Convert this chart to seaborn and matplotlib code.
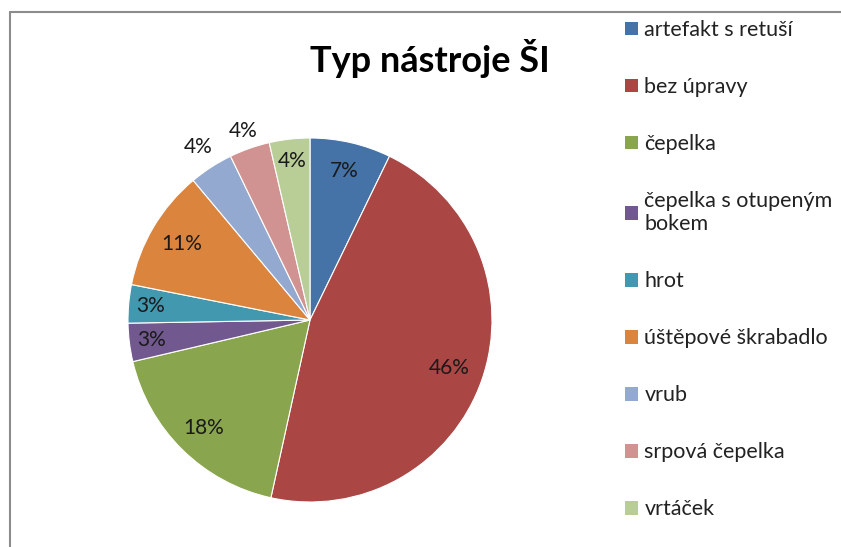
import numpy as np
import matplotlib
matplotlib.use("Agg")
import matplotlib.pyplot as plt
import seaborn as sns
from matplotlib.patches import Patch

sns.set_theme(style="white")
plt.rcParams['font.family'] = ['Lato', 'DejaVu Sans']

title = "Typ nástroje ŠI"
categories = ["artefakt s retuší", "bez úpravy", "čepelka",
              "čepelka s otupeným\nbokem", "hrot", "úštěpové škrabadlo",
              "vrub", "srpová čepelka", "vrtáček"]
values = [7.2, 46.3, 17.9, 3.4, 3.4, 10.8, 3.9, 3.6, 3.6]
colors = ["#4572A7", "#AA4643", "#89A54E", "#71588F", "#4198AF",
          "#DB843D", "#93A9CF", "#D19392", "#B9CD96"]
label_dist = [0.84, 0.81, 0.83, 0.88, 0.88, 0.82, 1.13, 1.10, 0.88]

W, H = 841, 547
fig = plt.figure(figsize=(W / 100, H / 100), dpi=100)
fig.patch.set_facecolor("white")

cx, cy, R = 310, 320, 182
ax = fig.add_axes([(cx - R) / W, (H - cy - R) / H, 2 * R / W, 2 * R / H])
wedges, _ = ax.pie(values, colors=colors, startangle=90, counterclock=False,
                   radius=1.0, wedgeprops=dict(edgecolor="white", linewidth=0.8))
ax.set_xlim(-1, 1)
ax.set_ylim(-1, 1)
ax.set_aspect("equal")
ax.axis("off")

total = sum(values)
for w, v, d in zip(wedges, values, label_dist):
    ang = np.deg2rad((w.theta1 + w.theta2) / 2)
    ax.text(d * np.cos(ang), d * np.sin(ang), f"{100 * v / total:.0f}%",
            ha="center", va="center", fontsize=15, color="#1a1a1a", clip_on=False)

fig.text(430 / W, 1 - 58 / H, title, ha="center", va="center",
         fontsize=26, fontweight="bold", color="black")

handles = [Patch(facecolor=c, edgecolor="none") for c in colors]
leg = fig.legend(handles, categories, loc="upper left",
                 bbox_to_anchor=(610 / W, 1 - 5 / H), frameon=False,
                 fontsize=15.5, labelspacing=1.72, handlelength=0.6,
                 handleheight=0.6, handletextpad=0.3, borderpad=0.2)
for t in leg.get_texts():
    t.set_color("#222222")

# chart border (top and left visible)
fig.add_artist(plt.Line2D([10 / W, 10 / W], [0, 1 - 12 / H], transform=fig.transFigure,
                          color="#8c8c8c", linewidth=1.5))
fig.add_artist(plt.Line2D([10 / W, 1], [1 - 12 / H, 1 - 12 / H], transform=fig.transFigure,
                          color="#8c8c8c", linewidth=1.5))

fig.savefig("out.png", dpi=100)
